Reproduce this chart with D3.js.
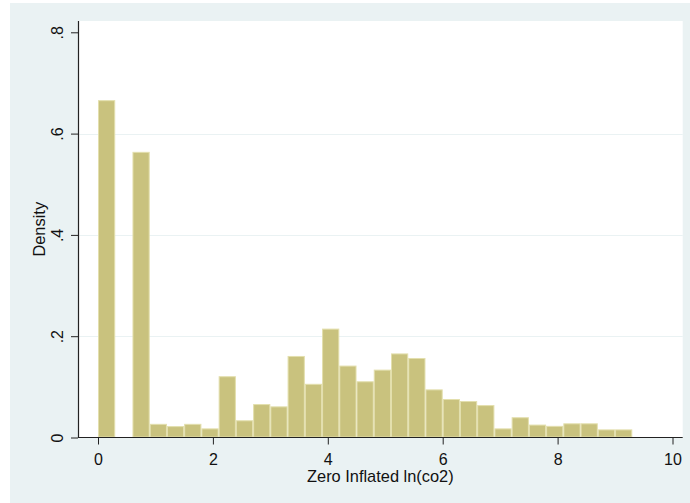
<!DOCTYPE html>
<html>
<head>
<meta charset="utf-8">
<script src="https://cdn.jsdelivr.net/npm/d3@7"></script>
<style>
  html, body { margin: 0; padding: 0; background: #ffffff; }
  svg { display: block; }
  text { font-family: "Liberation Sans", Arial, sans-serif; fill: #111; }
</style>
</head>
<body>
<svg id="chart" width="690" height="503"></svg>
<script>
// Histogram of zero-inflated ln(co2): lower bin edges, bin width and density per bin
const binLower = [0, 0.3, 0.6, 0.9, 1.2, 1.5, 1.8, 2.1, 2.4, 2.7,
                  3.0, 3.3, 3.6, 3.9, 4.2, 4.5, 4.8, 5.1, 5.4, 5.7,
                  6.0, 6.3, 6.6, 6.9, 7.2, 7.5, 7.8, 8.1, 8.4, 8.7, 9.0];
const binWidth = 0.3;
const density = [0.666, 0, 0.564, 0.027, 0.0225, 0.027, 0.018, 0.121, 0.034, 0.066,
                 0.0615, 0.161, 0.106, 0.215, 0.142, 0.111, 0.134, 0.166, 0.157, 0.095,
                 0.076, 0.072, 0.064, 0.018, 0.040, 0.0255, 0.023, 0.028, 0.028, 0.016, 0.016];

const xTicks = [0, 2, 4, 6, 8, 10];
const xTickLabels = ["0", "2", "4", "6", "8", "10"];
const yTicks = [0, 0.2, 0.4, 0.6, 0.8];
const yTickLabels = ["0", ".2", ".4", ".6", ".8"];
const yGrid = [0.2, 0.4, 0.6];

const xTitle = "Zero Inflated ln(co2)";
const yTitle = "Density";

const svg = d3.select("#chart");

// graph region and plot region
const outer = { left: 10, top: 3, right: 690, bottom: 503 };
const plot = { left: 78, top: 21, right: 682.7, bottom: 437.5 };

const x = d3.scaleLinear().domain([0, 10]).range([98, 672.5]);
const y = d3.scaleLinear().domain([0, 0.8]).range([plot.bottom, 32.3]);

svg.append("rect")
  .attr("x", outer.left).attr("y", outer.top)
  .attr("width", outer.right - outer.left).attr("height", outer.bottom - outer.top)
  .attr("fill", "#eaf2f3");

svg.append("rect")
  .attr("x", plot.left).attr("y", plot.top)
  .attr("width", plot.right - plot.left).attr("height", plot.bottom - plot.top)
  .attr("fill", "#ffffff");

// horizontal grid lines
svg.append("g").selectAll("line").data(yGrid).join("line")
  .attr("x1", plot.left).attr("x2", plot.right)
  .attr("y1", d => Math.round(y(d)) + 0.5).attr("y2", d => Math.round(y(d)) + 0.5)
  .attr("stroke", "#eaf2f3").attr("stroke-width", 1);

// bars
const bins = binLower.map((lo, i) => ({ lo: lo, hi: lo + binWidth, d: density[i] }))
  .filter(b => b.d > 0);

svg.append("g").selectAll("rect").data(bins).join("rect")
  .attr("x", b => x(b.lo) + 0.5)
  .attr("width", b => x(b.hi) - x(b.lo) - 1)
  .attr("y", b => y(b.d) + 0.5)
  .attr("height", b => y(0) - y(b.d) - 1)
  .attr("fill", "#c9c27e")
  .attr("stroke", "#e3dfad")
  .attr("stroke-width", 1);

// y axis
const yAxis = d3.axisLeft(y).tickValues(yTicks).tickSize(7).tickSizeOuter(0)
  .tickFormat((d, i) => yTickLabels[i]);
const gy = svg.append("g").attr("transform", `translate(${plot.left},0)`).call(yAxis);
gy.select(".domain").remove();
gy.selectAll(".tick line").attr("stroke", "#222");
gy.selectAll(".tick text")
  .attr("x", null).attr("dy", null)
  .attr("text-anchor", "middle")
  .attr("font-size", 16)
  .attr("transform", "translate(-15,0) rotate(-90)");

// x axis
const xAxis = d3.axisBottom(x).tickValues(xTicks).tickSize(7).tickSizeOuter(0)
  .tickFormat((d, i) => xTickLabels[i]);
const gx = svg.append("g").attr("transform", `translate(0,${plot.bottom})`).call(xAxis);
gx.select(".domain").remove();
gx.selectAll(".tick line").attr("stroke", "#222");
gx.selectAll(".tick text")
  .attr("y", 27.5).attr("dy", null)
  .attr("font-size", 16);

// axis lines
svg.append("line")
  .attr("x1", plot.left + 0.5).attr("x2", plot.left + 0.5)
  .attr("y1", plot.top).attr("y2", plot.bottom + 0.5)
  .attr("stroke", "#222").attr("stroke-width", 1.2);
svg.append("line")
  .attr("x1", plot.left).attr("x2", plot.right)
  .attr("y1", plot.bottom).attr("y2", plot.bottom)
  .attr("stroke", "#222").attr("stroke-width", 1.2);

// axis titles
svg.append("text")
  .attr("x", (plot.left + plot.right) / 2).attr("y", 482)
  .attr("text-anchor", "middle").attr("font-size", 16.4)
  .text(xTitle);

svg.append("text")
  .attr("transform", `translate(45,${(plot.top + plot.bottom) / 2}) rotate(-90)`)
  .attr("text-anchor", "middle").attr("font-size", 16.4)
  .text(yTitle);
</script>
</body>
</html>
